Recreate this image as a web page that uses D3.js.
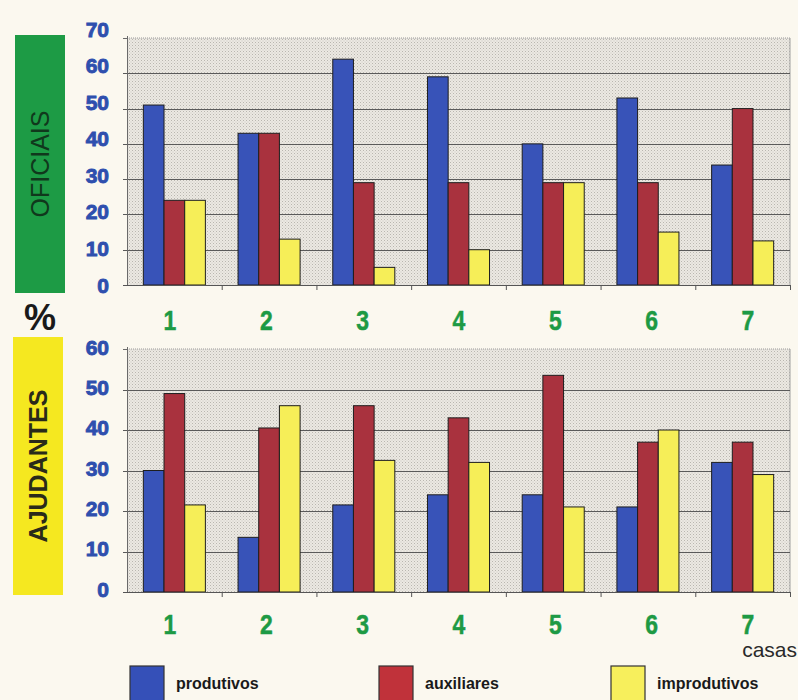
<!DOCTYPE html>
<html>
<head>
<meta charset="utf-8">
<script src="https://cdn.jsdelivr.net/npm/d3@7"></script>
<style>
  html, body { margin: 0; padding: 0; background: #fbf8ef; }
  svg { display: block; }
</style>
</head>
<body>
<svg id="chart" width="798" height="700"></svg>
<script>
// ---- data ----
const categories = ["1", "2", "3", "4", "5", "6", "7"];
const seriesNames = ["produtivos", "auxiliares", "improdutivos"];

const oficiaisProdutivos   = [51, 43, 64, 59, 40, 53, 34];
const oficiaisAuxiliares   = [24, 43, 29, 29, 29, 29, 50];
const oficiaisImprodutivos = [24, 13, 5, 10, 29, 15, 12.5];

const ajudantesProdutivos   = [30, 13.5, 21.5, 24, 24, 21, 32];
const ajudantesAuxiliares   = [49, 40.5, 46, 43, 53.5, 37, 37];
const ajudantesImprodutivos = [21.5, 46, 32.5, 32, 21, 40, 29];

const oficiaisTicks  = [0, 10, 20, 30, 40, 50, 60, 70];
const ajudantesTicks = [0, 10, 20, 30, 40, 50, 60];

// ---- styling ----
const barColors = { produtivos: "#3853b8", auxiliares: "#a9323e", improdutivos: "#f6ee58" };
const legendColors = { produtivos: "#3550b8", auxiliares: "#c0323a", improdutivos: "#f7ef5c" };

const svg = d3.select("#chart");
const defs = svg.append("defs");
const pat = defs.append("pattern").attr("id", "dots").attr("patternUnits", "userSpaceOnUse")
  .attr("width", 3).attr("height", 3);
pat.append("rect").attr("width", 3).attr("height", 3).attr("fill", "#ece9e2");
pat.append("rect").attr("x", 0).attr("y", 0).attr("width", 1).attr("height", 1).attr("fill", "#b9b6b0");
pat.append("rect").attr("x", 1.5).attr("y", 1.5).attr("width", 1).attr("height", 1).attr("fill", "#cbc8c2");

const plotLeft = 127, plotRight = 790;

const x0 = d3.scaleBand().domain(categories).range([plotLeft, plotRight]).padding(0);
const x1 = d3.scaleBand().domain(seriesNames).range([0, x0.bandwidth()]).paddingInner(0).paddingOuter(0.79);
// category labels were placed slightly off the bar groups in the original
const xLab = d3.scalePoint().domain(categories).range([170, 748]);

function panel(cfg) {
  const y = d3.scaleLinear().domain([0, cfg.max]).range([cfg.bottom, cfg.top]);
  const yLab = d3.scaleLinear().domain([0, cfg.max]).range([cfg.labBottom, cfg.labTop]);
  const g = svg.append("g");

  // plot background
  g.append("rect").attr("x", plotLeft).attr("y", cfg.top)
    .attr("width", plotRight - plotLeft).attr("height", cfg.bottom - cfg.top)
    .attr("fill", "url(#dots)");

  // top border (light dotted) and right border
  g.append("line").attr("x1", plotLeft).attr("x2", plotRight).attr("y1", cfg.top).attr("y2", cfg.top)
    .attr("stroke", "#9a9a9a").attr("stroke-width", 1).attr("stroke-dasharray", "1,1");
  g.append("line").attr("x1", plotRight).attr("x2", plotRight).attr("y1", cfg.top).attr("y2", cfg.bottom)
    .attr("stroke", "#a0a0a0").attr("stroke-width", 1);

  // gridlines
  g.append("g").selectAll("line").data(cfg.ticks.filter(t => t > 0 && t < cfg.max)).join("line")
    .attr("x1", plotLeft - 4).attr("x2", plotRight)
    .attr("y1", d => Math.round(y(d)) + 0.5).attr("y2", d => Math.round(y(d)) + 0.5)
    .attr("stroke", "#5a5a5a").attr("stroke-width", 1);

  // left axis line
  g.append("line").attr("x1", plotLeft + 0.5).attr("x2", plotLeft + 0.5).attr("y1", cfg.top - 2).attr("y2", cfg.bottom)
    .attr("stroke", "#6a6a6a").attr("stroke-width", 1);
  g.append("line").attr("x1", plotLeft - 4).attr("x2", plotLeft).attr("y1", cfg.top + 0.5).attr("y2", cfg.top + 0.5)
    .attr("stroke", "#6a6a6a");

  // bars
  const groups = g.append("g").selectAll("g").data(categories).join("g")
    .attr("transform", d => `translate(${x0(d)},0)`);
  groups.selectAll("rect")
    .data((c, i) => seriesNames.map((s, k) => ({ s, v: cfg.values[k][i] })))
    .join("rect")
    .attr("x", d => x1(d.s))
    .attr("y", d => y(d.v))
    .attr("width", x1.bandwidth())
    .attr("height", d => y(0) - y(d.v))
    .attr("fill", d => barColors[d.s])
    .attr("stroke", "#1e1e1e").attr("stroke-width", 1);

  // bottom axis with ticks between categories
  g.append("line").attr("x1", plotLeft - 4).attr("x2", plotRight).attr("y1", cfg.bottom + 0.5).attr("y2", cfg.bottom + 0.5)
    .attr("stroke", "#555").attr("stroke-width", 1.2);
  g.append("g").selectAll("line").data(categories.slice(1)).join("line")
    .attr("x1", d => x0(d) + 0.5).attr("x2", d => x0(d) + 0.5)
    .attr("y1", cfg.bottom).attr("y2", cfg.bottom + 5)
    .attr("stroke", "#555");
  g.append("line").attr("x1", plotRight + 0.5).attr("x2", plotRight + 0.5)
    .attr("y1", cfg.bottom).attr("y2", cfg.bottom + 5).attr("stroke", "#555");

  // y labels
  g.append("g").selectAll("text").data(cfg.ticks).join("text")
    .attr("x", 109).attr("y", d => yLab(d))
    .attr("dy", "0.36em").attr("text-anchor", "end")
    .attr("font-family", "Liberation Sans, Arial, sans-serif")
    .attr("font-weight", "bold").attr("font-size", 21)
    .attr("fill", "#2e4fae").attr("stroke", "#2e4fae").attr("stroke-width", 0.9)
    .text(d => d);

  // category labels
  g.append("g").selectAll("text").data(categories).join("text")
    .attr("transform", d => `translate(${xLab(d)},${cfg.catY}) scale(0.85,1)`)
    .attr("dy", "0.36em").attr("text-anchor", "middle")
    .attr("font-family", "Liberation Sans, Arial, sans-serif")
    .attr("font-weight", "bold").attr("font-size", 27)
    .attr("fill", "#1d9a44").attr("stroke", "#1d9a44").attr("stroke-width", 0.5)
    .text(d => d);

  // side box label
  g.append("rect").attr("x", cfg.boxX).attr("y", cfg.boxTop).attr("width", 50)
    .attr("height", cfg.boxBottom - cfg.boxTop).attr("fill", cfg.boxColor);
  const cy = (cfg.boxTop + cfg.boxBottom) / 2 + cfg.textShift;
  g.append("text")
    .attr("transform", `translate(${cfg.boxX + 25},${cy}) rotate(-90)`)
    .attr("dy", "0.36em").attr("text-anchor", "middle")
    .attr("font-family", "Liberation Sans, Arial, sans-serif")
    .attr("font-weight", cfg.boxWeight).attr("font-size", cfg.boxFont)
    .attr("fill", cfg.boxTextColor)
    .text(cfg.label);
}

panel({
  max: 70, top: 38, bottom: 285, labTop: 29, labBottom: 285,
  ticks: oficiaisTicks,
  values: [oficiaisProdutivos, oficiaisAuxiliares, oficiaisImprodutivos],
  catY: 320,
  label: "OFICIAIS", boxX: 15, boxTop: 35, boxBottom: 293, boxColor: "#1d9b45",
  boxTextColor: "#10381c", boxFont: 25, boxWeight: "normal", textShift: 0
});

panel({
  max: 60, top: 349, bottom: 592, labTop: 347, labBottom: 589,
  ticks: ajudantesTicks,
  values: [ajudantesProdutivos, ajudantesAuxiliares, ajudantesImprodutivos],
  catY: 624,
  label: "AJUDANTES", boxX: 13, boxTop: 337, boxBottom: 595, boxColor: "#f5e820",
  boxTextColor: "#2a2a1a", boxFont: 25, boxWeight: "bold", textShift: 0
});

// % sign
svg.append("text").attr("x", 40).attr("y", 330).attr("text-anchor", "middle")
  .attr("font-family", "Liberation Sans, Arial, sans-serif").attr("font-weight", "bold")
  .attr("font-size", 36).attr("fill", "#1a1a1a").text("%");

// casas
svg.append("text").attr("x", 797).attr("y", 657).attr("text-anchor", "end")
  .attr("font-family", "Liberation Sans, Arial, sans-serif")
  .attr("font-size", 21).attr("fill", "#2a2a2a").text("casas");

// legend
const legendX = { produtivos: 130, auxiliares: 379, improdutivos: 611 };
const leg = svg.append("g").selectAll("g").data(seriesNames).join("g")
  .attr("transform", d => `translate(${legendX[d]},666)`);
leg.append("rect").attr("width", 34).attr("height", 36)
  .attr("fill", d => legendColors[d]).attr("stroke", "#333").attr("stroke-width", 1.2);
leg.append("text").attr("x", 46).attr("y", 23)
  .attr("font-family", "Liberation Sans, Arial, sans-serif").attr("font-weight", "bold")
  .attr("font-size", 16).attr("fill", "#1a1a1a").text(d => d);
</script>
</body>
</html>
